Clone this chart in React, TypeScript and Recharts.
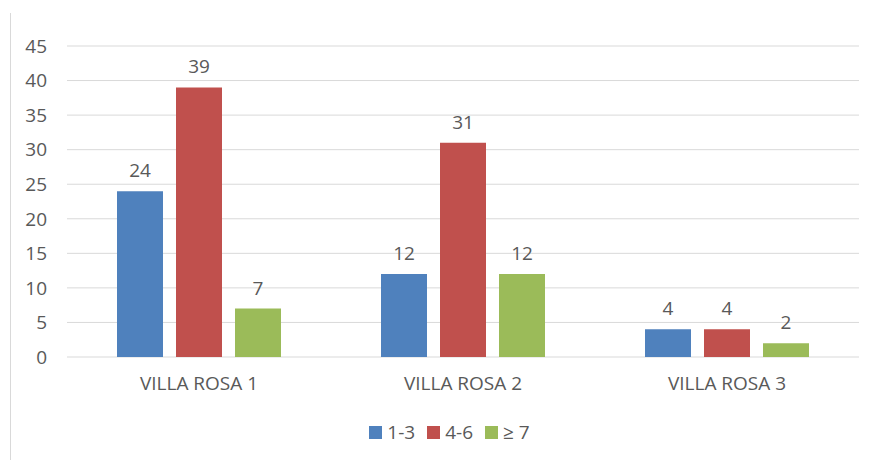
import { BarChart, Bar, XAxis, YAxis, CartesianGrid, Legend, LabelList } from 'recharts';

const categories = ['VILLA ROSA 1', 'VILLA ROSA 2', 'VILLA ROSA 3'];
const series13 = [24, 12, 4];
const series46 = [39, 31, 4];
const series7 = [7, 12, 2];
const yTicks = [0, 5, 10, 15, 20, 25, 30, 35, 40, 45];

const data = categories.map((name, i) => ({
  name,
  a: series13[i],
  b: series46[i],
  c: series7[i],
}));

const colors = { a: '#4F81BD', b: '#C0504D', c: '#9BBB59' };
const textColor = '#595959';
const font = '"Open Sans", sans-serif';
const fs = 19;

function LegendContent({ payload }: any) {
  return (
    <div style={{ height: 24, paddingLeft: 40, display: 'flex', justifyContent: 'center', alignItems: 'center', fontFamily: font, fontSize: fs, color: textColor }}>
      {(payload || []).map((p: any) => (
        <div key={p.value} style={{ display: 'flex', alignItems: 'center', margin: '0 6px' }}>
          <span style={{ width: 13, height: 13, background: p.color, display: 'inline-block', marginRight: 5 }} />
          <span>{p.value}</span>
        </div>
      ))}
    </div>
  );
}

export default function App() {
  return (
    <div style={{ position: 'absolute', left: 0, top: 0, width: 874, height: 460, background: '#fff' }}>
      <div style={{ position: 'absolute', left: 10, top: 13, bottom: 0, borderLeft: '1px solid #d9d9d9' }} />
      <BarChart
        width={874}
        height={460}
        data={data}
        margin={{ top: 46, right: 15, left: 0, bottom: 16 }}
        barSize={46}
        barGap={13}
      >
        <CartesianGrid vertical={false} stroke="#d9d9d9" />
        <XAxis
          dataKey="name"
          axisLine={false}
          tickLine={false}
          height={63}
          tickMargin={14}
          tick={{ fontSize: fs, fill: textColor, fontFamily: font }}
        />
        <YAxis
          domain={[0, 45]}
          ticks={yTicks}
          width={67}
          axisLine={false}
          tickLine={false}
          tickMargin={14}
          interval={0}
          tick={{ fontSize: fs, fill: textColor, fontFamily: font }}
        />
        <Legend verticalAlign="bottom" content={<LegendContent />} />
        <Bar dataKey="a" name="1-3" fill={colors.a} isAnimationActive={false}>
          <LabelList dataKey="a" position="top" offset={14} style={{ fontSize: fs, fill: textColor, fontFamily: font }} />
        </Bar>
        <Bar dataKey="b" name="4-6" fill={colors.b} isAnimationActive={false}>
          <LabelList dataKey="b" position="top" offset={14} style={{ fontSize: fs, fill: textColor, fontFamily: font }} />
        </Bar>
        <Bar dataKey="c" name="≥ 7" fill={colors.c} isAnimationActive={false}>
          <LabelList dataKey="c" position="top" offset={14} style={{ fontSize: fs, fill: textColor, fontFamily: font }} />
        </Bar>
      </BarChart>
    </div>
  );
}
